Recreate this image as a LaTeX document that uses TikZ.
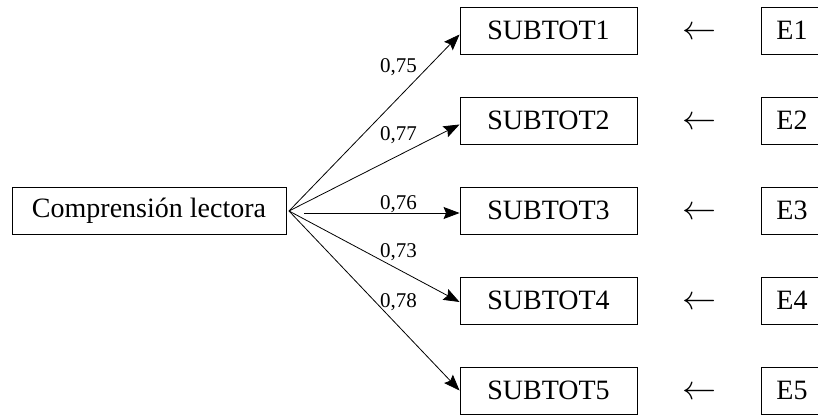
\documentclass[tikz,border=0pt]{standalone}
\usepackage{fontspec}
\setmainfont{Liberation Serif}
\usetikzlibrary{arrows.meta}
\begin{document}
\begin{tikzpicture}[x=1pt,y=-1pt,
  box/.style={draw,line width=0.9pt,inner sep=0pt,minimum height=47pt,font=\fontsize{28}{30}\selectfont},
  sbox/.style={box,minimum width=177pt},
  ebox/.style={box,minimum width=62pt},
  coef/.style={anchor=base west,inner sep=0pt,font=\fontsize{21}{24}\selectfont},
  larr/.style={inner sep=0pt},
  path/.style={line width=0.8pt,-{Stealth[length=16pt,width=12pt,inset=2.5pt]}}]
\useasboundingbox (0,0) rectangle (818,415);
\node[box,minimum width=274pt] (cl) at (149,210.5) {Comprensión lectora};
\coordinate (o) at (289,211);
\coordinate (o3) at (304,213);
\foreach \i/\y in {1/30.5,2/120.5,3/210.5,4/300.5,5/390.5}{
  \node[sbox] (s\i) at (548.5,\y) {SUBTOT\i};
}
\begin{scope}
\clip (0,0) rectangle (818,415);
\foreach \i/\y in {1/30.5,2/120.5,3/210.5,4/300.5,5/390.5}{
  \node[ebox] (e\i) at (792,\y) {E\i};
  \node[larr] (a\i) at (699,\y+3) {\scalebox{3.4}{$\leftarrow$}};
}
\end{scope}
\draw[path] (o) -- ([yshift=-4pt]s1.west);
\draw[path] (o) -- ([yshift=-4pt]s2.west);
\draw[path] (o3) -- ([yshift=-2.5pt]s3.west);
\draw[path] (o) -- ([yshift=-1.5pt]s4.west);
\draw[path] (o) -- (s5.west);
\node[coef] (c1) at (380,72) {0,75};
\node[coef] (c2) at (380,140) {0,77};
\node[coef] (c3) at (380,209) {0,76};
\node[coef] (c4) at (380,257) {0,73};
\node[coef] (c5) at (380,307) {0,78};
\end{tikzpicture}
\end{document}
